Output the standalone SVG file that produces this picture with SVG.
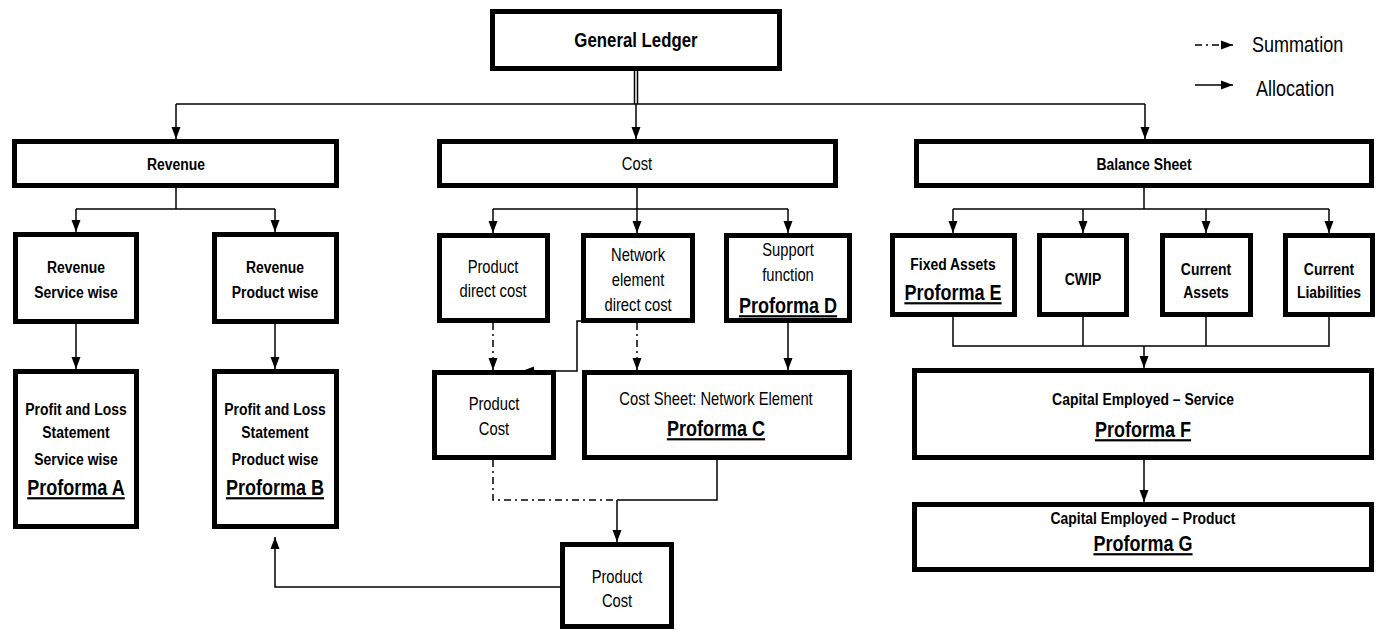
<svg xmlns="http://www.w3.org/2000/svg" width="1384" height="630" viewBox="0 0 1384 630">
<style>
.box{fill:#fff;stroke:#000;stroke-width:5}
.c{fill:none;stroke:#000;stroke-width:1.5}
.dd{fill:none;stroke:#000;stroke-width:1.5;stroke-dasharray:7 4 2 4}
text{font-family:"Liberation Sans",Arial,sans-serif;text-anchor:middle;fill:#000;transform:scaleX(0.82);transform-box:fill-box;transform-origin:center}
.b{font-size:17px;font-weight:bold}
.r{font-size:18px}
.p{font-size:22px;font-weight:bold;text-decoration:underline}
.t{font-size:20.5px;font-weight:bold}
.lg{font-size:22px;text-anchor:start;transform-origin:left}
</style>
<defs>
<marker id="ah" markerUnits="userSpaceOnUse" markerWidth="12" markerHeight="10" viewBox="0 0 12 10" refX="12" refY="5" orient="auto">
<path d="M0,0.5 L12,5 L0,9.5 Z" fill="#000"/>
</marker>
</defs>

<g id="connectors">
<line x1="634.5" y1="71" x2="634.5" y2="104" class="c" stroke-width="1"/>
<line x1="637.5" y1="71" x2="637.5" y2="104" class="c" stroke-width="1"/>
<line x1="176" y1="104" x2="1145" y2="104" class="c"/>
<line x1="176" y1="104" x2="176" y2="139" class="c" marker-end="url(#ah)"/>
<line x1="636" y1="104" x2="636" y2="139" class="c" marker-end="url(#ah)"/>
<line x1="1145" y1="104" x2="1145" y2="139" class="c" marker-end="url(#ah)"/>

<polyline points="176,188 176,209" class="c"/>
<line x1="76" y1="209" x2="275" y2="209" class="c"/>
<line x1="76" y1="209" x2="76" y2="232" class="c" marker-end="url(#ah)"/>
<line x1="275" y1="209" x2="275" y2="232" class="c" marker-end="url(#ah)"/>
<line x1="76" y1="324" x2="76" y2="369" class="c" marker-end="url(#ah)"/>
<line x1="275" y1="324" x2="275" y2="369" class="c" marker-end="url(#ah)"/>

<line x1="637" y1="188" x2="637" y2="233" class="c" marker-end="url(#ah)"/>
<line x1="493" y1="209" x2="788" y2="209" class="c"/>
<line x1="493" y1="209" x2="493" y2="233" class="c" marker-end="url(#ah)"/>
<line x1="788" y1="209" x2="788" y2="233" class="c" marker-end="url(#ah)"/>

<line x1="493" y1="323" x2="493" y2="370" class="dd" marker-end="url(#ah)"/>
<line x1="637" y1="323" x2="637" y2="370" class="dd" marker-end="url(#ah)"/>
<line x1="788" y1="323" x2="788" y2="370" class="c" marker-end="url(#ah)"/>
<polyline points="581,321 577,321 577,371 522,371" class="c" marker-end="url(#ah)"/>

<polyline points="493,460 493,500 617,500" class="dd"/>
<polyline points="717,460 717,500 617,500" class="c"/>
<line x1="617" y1="500" x2="617" y2="542" class="c" marker-end="url(#ah)"/>
<polyline points="560,587 275,587 275,537" class="c" marker-end="url(#ah)"/>

<line x1="1144" y1="188" x2="1144" y2="209" class="c"/>
<line x1="953" y1="209" x2="1329" y2="209" class="c"/>
<line x1="953" y1="209" x2="953" y2="233" class="c" marker-end="url(#ah)"/>
<line x1="1083" y1="209" x2="1083" y2="233" class="c" marker-end="url(#ah)"/>
<line x1="1206" y1="209" x2="1206" y2="233" class="c" marker-end="url(#ah)"/>
<line x1="1329" y1="209" x2="1329" y2="233" class="c" marker-end="url(#ah)"/>
<polyline points="953,317 953,346 1329,346 1329,317" class="c"/>
<line x1="1083" y1="317" x2="1083" y2="346" class="c"/>
<line x1="1206" y1="317" x2="1206" y2="346" class="c"/>
<line x1="1144" y1="346" x2="1144" y2="368" class="c" marker-end="url(#ah)"/>
<line x1="1144" y1="460" x2="1144" y2="502" class="c" marker-end="url(#ah)"/>
</g>

<g id="legend">
<line x1="1195" y1="45" x2="1233" y2="45" class="dd" marker-end="url(#ah)"/>
<text x="1252" y="52" class="lg">Summation</text>
<line x1="1195" y1="85" x2="1233" y2="85" class="c" stroke-width="2" marker-end="url(#ah)"/>
<text x="1256" y="96" class="lg">Allocation</text>
</g>

<g id="general-ledger"><rect x="492.5" y="11.5" width="287" height="57" class="box"/><text x="636" y="47" class="t">General Ledger</text></g>
<g id="revenue"><rect x="14.5" y="141.5" width="322" height="44" class="box"/><text x="176" y="170" class="b">Revenue</text></g>
<g id="cost"><rect x="439.5" y="141.5" width="396" height="44" class="box"/><text x="637" y="170" class="r">Cost</text></g>
<g id="balance-sheet"><rect x="916.5" y="141.5" width="455" height="44" class="box"/><text x="1144" y="170" class="b">Balance Sheet</text></g>

<g id="revenue-service"><rect x="15.5" y="234.5" width="121" height="87" class="box"/><text x="76" y="273" class="b">Revenue</text><text x="76" y="298" class="b">Service wise</text></g>
<g id="revenue-product"><rect x="214.5" y="234.5" width="122" height="87" class="box"/><text x="275" y="273" class="b">Revenue</text><text x="275" y="298" class="b">Product wise</text></g>
<g id="pl-service"><rect x="15.5" y="371.5" width="121" height="155" class="box"/><text x="76" y="415" class="b">Profit and Loss</text><text x="76" y="438" class="b">Statement</text><text x="76" y="465" class="b">Service wise</text><text x="76" y="495" class="p">Proforma A</text></g>
<g id="pl-product"><rect x="214.5" y="371.5" width="122" height="155" class="box"/><text x="275" y="415" class="b">Profit and Loss</text><text x="275" y="438" class="b">Statement</text><text x="275" y="465" class="b">Product wise</text><text x="275" y="495" class="p">Proforma B</text></g>

<g id="product-direct-cost"><rect x="439.5" y="235.5" width="108" height="85" class="box"/><text x="493" y="273" class="r">Product</text><text x="493" y="297" class="r">direct cost</text></g>
<g id="network-element"><rect x="583.5" y="235.5" width="109" height="85" class="box"/><text x="638" y="261" class="r">Network</text><text x="638" y="286" class="r">element</text><text x="638" y="311" class="r">direct cost</text></g>
<g id="support-function"><rect x="726.5" y="235.5" width="123" height="85" class="box"/><text x="788" y="256" class="r">Support</text><text x="788" y="281" class="r">function</text><text x="788" y="313" class="p">Proforma D</text></g>
<g id="product-cost-1"><rect x="434.5" y="372.5" width="119" height="85" class="box"/><text x="494" y="410" class="r">Product</text><text x="494" y="435" class="r">Cost</text></g>
<g id="cost-sheet"><rect x="584.5" y="372.5" width="265" height="85" class="box"/><text x="716" y="405" class="r">Cost Sheet: Network Element</text><text x="716" y="436" class="p">Proforma C</text></g>
<g id="product-cost-2"><rect x="562.5" y="544.5" width="109" height="82" class="box"/><text x="617" y="583" class="r">Product</text><text x="617" y="607" class="r">Cost</text></g>

<g id="fixed-assets"><rect x="892.5" y="235.5" width="122" height="79" class="box"/><text x="953" y="270" class="b">Fixed Assets</text><text x="953" y="300" class="p">Proforma E</text></g>
<g id="cwip"><rect x="1039.5" y="235.5" width="87" height="79" class="box"/><text x="1083" y="285" class="b">CWIP</text></g>
<g id="current-assets"><rect x="1162.5" y="235.5" width="88" height="79" class="box"/><text x="1206" y="275" class="b">Current</text><text x="1206" y="298" class="b">Assets</text></g>
<g id="current-liabilities"><rect x="1285.5" y="235.5" width="87" height="79" class="box"/><text x="1329" y="275" class="b">Current</text><text x="1329" y="298" class="b">Liabilities</text></g>
<g id="ce-service"><rect x="914.5" y="370.5" width="457" height="87" class="box"/><text x="1143" y="405" class="b">Capital Employed – Service</text><text x="1143" y="437" class="p">Proforma F</text></g>
<g id="ce-product"><rect x="914.5" y="504.5" width="457" height="65" class="box"/><text x="1143" y="524" class="b">Capital Employed – Product</text><text x="1143" y="551" class="p">Proforma G</text></g>
</svg>
